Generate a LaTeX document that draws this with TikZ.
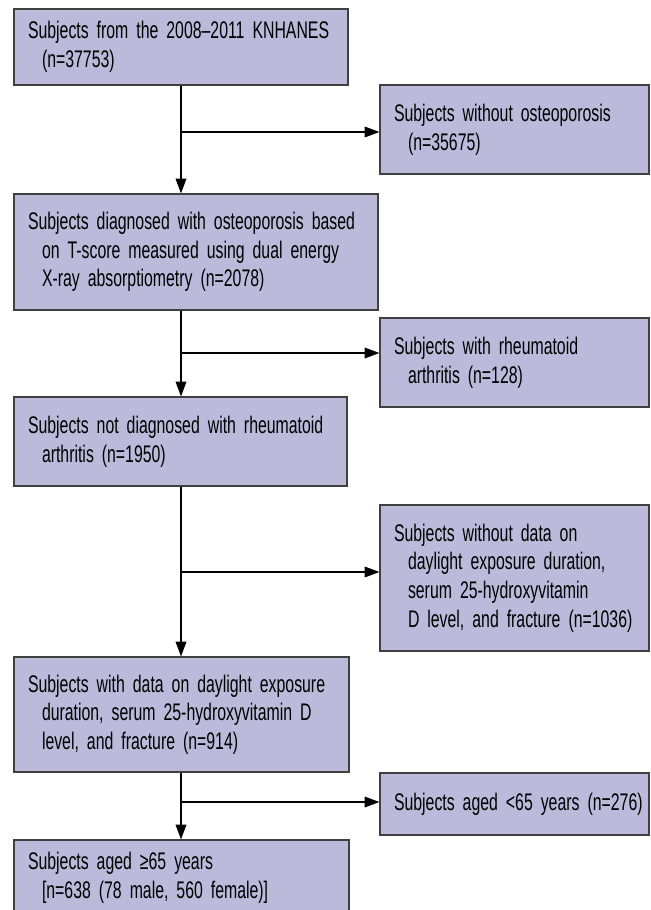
\documentclass[tikz,border=0pt]{standalone}
\usepackage{fontspec}
\setmainfont{Liberation Sans}[FakeStretch=0.66]
\usetikzlibrary{arrows.meta}
\definecolor{boxfill}{RGB}{187,186,218}
\definecolor{boxline}{RGB}{64,64,64}
\newcommand{\flowfont}{\fontsize{18}{21.5}\selectfont\spaceskip=3pt plus 1pt minus 0.5pt\relax}
\tikzset{
  flowbox/.style={draw=boxline, line width=0.9pt, fill=boxfill, align=left,
    inner xsep=10.5pt, inner ysep=0pt, font=\flowfont},
  flowarrow/.style={line width=0.8pt, -{Triangle[length=11pt,width=8pt]}},
}
\begin{document}
\begin{tikzpicture}[x=0.75pt,y=0.75pt,yscale=-1,xscale=1]
\useasboundingbox (0,0) rectangle (650,910);

% left column
\node[flowbox, text width=229.5pt, minimum height=57pt] (src) at (181,47)
  {Subjects from the 2008–2011 KNHANES\\\hspace*{10.5pt}(n=37753)};
\node[flowbox, text width=252pt, minimum height=87pt] (osteo) at (196,252)
  {Subjects diagnosed with osteoporosis based\\\hspace*{10.5pt}on T-score measured using dual energy\\\hspace*{10.5pt}X-ray absorptiometry (n=2078)};
\node[flowbox, text width=228.75pt, minimum height=66.75pt] (norheu) at (180.5,441.5)
  {Subjects not diagnosed with rheumatoid\\\hspace*{10.5pt}arthritis (n=1950)};
\node[flowbox, text width=230.25pt, minimum height=86.25pt] (data) at (181.5,714.5)
  {Subjects with data on daylight exposure\\\hspace*{10.5pt}duration, serum 25-hydroxyvitamin D\\\hspace*{10.5pt}level, and fracture (n=914)};
\node[flowbox, text width=230.25pt, minimum height=56.25pt] (old) at (181.5,877.5)
  {Subjects aged ≥65 years\\\hspace*{10.5pt}[n=638 (78 male, 560 female)]};

% right column
\node[flowbox, text width=180.75pt, minimum height=66.75pt] (nowo) at (514.5,129.5)
  {Subjects without osteoporosis\\\hspace*{10.5pt}(n=35675)};
\node[flowbox, text width=180.75pt, minimum height=66.75pt] (rheu) at (514.5,362.5)
  {Subjects with rheumatoid\\\hspace*{10.5pt}arthritis (n=128)};
\node[flowbox, text width=180.75pt, minimum height=109.5pt] (nodata) at (514.5,578)
  {Subjects without data on\\\hspace*{10.5pt}daylight exposure duration,\\\hspace*{10.5pt}serum 25-hydroxyvitamin\\\hspace*{10.5pt}D level, and fracture (n=1036)};
\node[flowbox, text width=180.75pt, minimum height=46.5pt] (young) at (514.5,804)
  {\mbox{Subjects aged <65 years (n=276)}};

% branch points on the trunk
\coordinate (j1) at (181,132);
\coordinate (j2) at (181,353);
\coordinate (j3) at (181,572);
\coordinate (j4) at (181,802);

% trunk
\draw[flowarrow] (src.south) -- (src.south |- osteo.north);
\draw[flowarrow] (src.south |- osteo.south) -- (src.south |- norheu.north);
\draw[flowarrow] (src.south |- norheu.south) -- (src.south |- data.north);
\draw[flowarrow] (src.south |- data.south) -- (src.south |- old.north);

% exclusions
\draw[flowarrow] (j1) -- (j1 -| nowo.west);
\draw[flowarrow] (j2) -- (j2 -| rheu.west);
\draw[flowarrow] (j3) -- (j3 -| nodata.west);
\draw[flowarrow] (j4) -- (j4 -| young.west);

\end{tikzpicture}
\end{document}
